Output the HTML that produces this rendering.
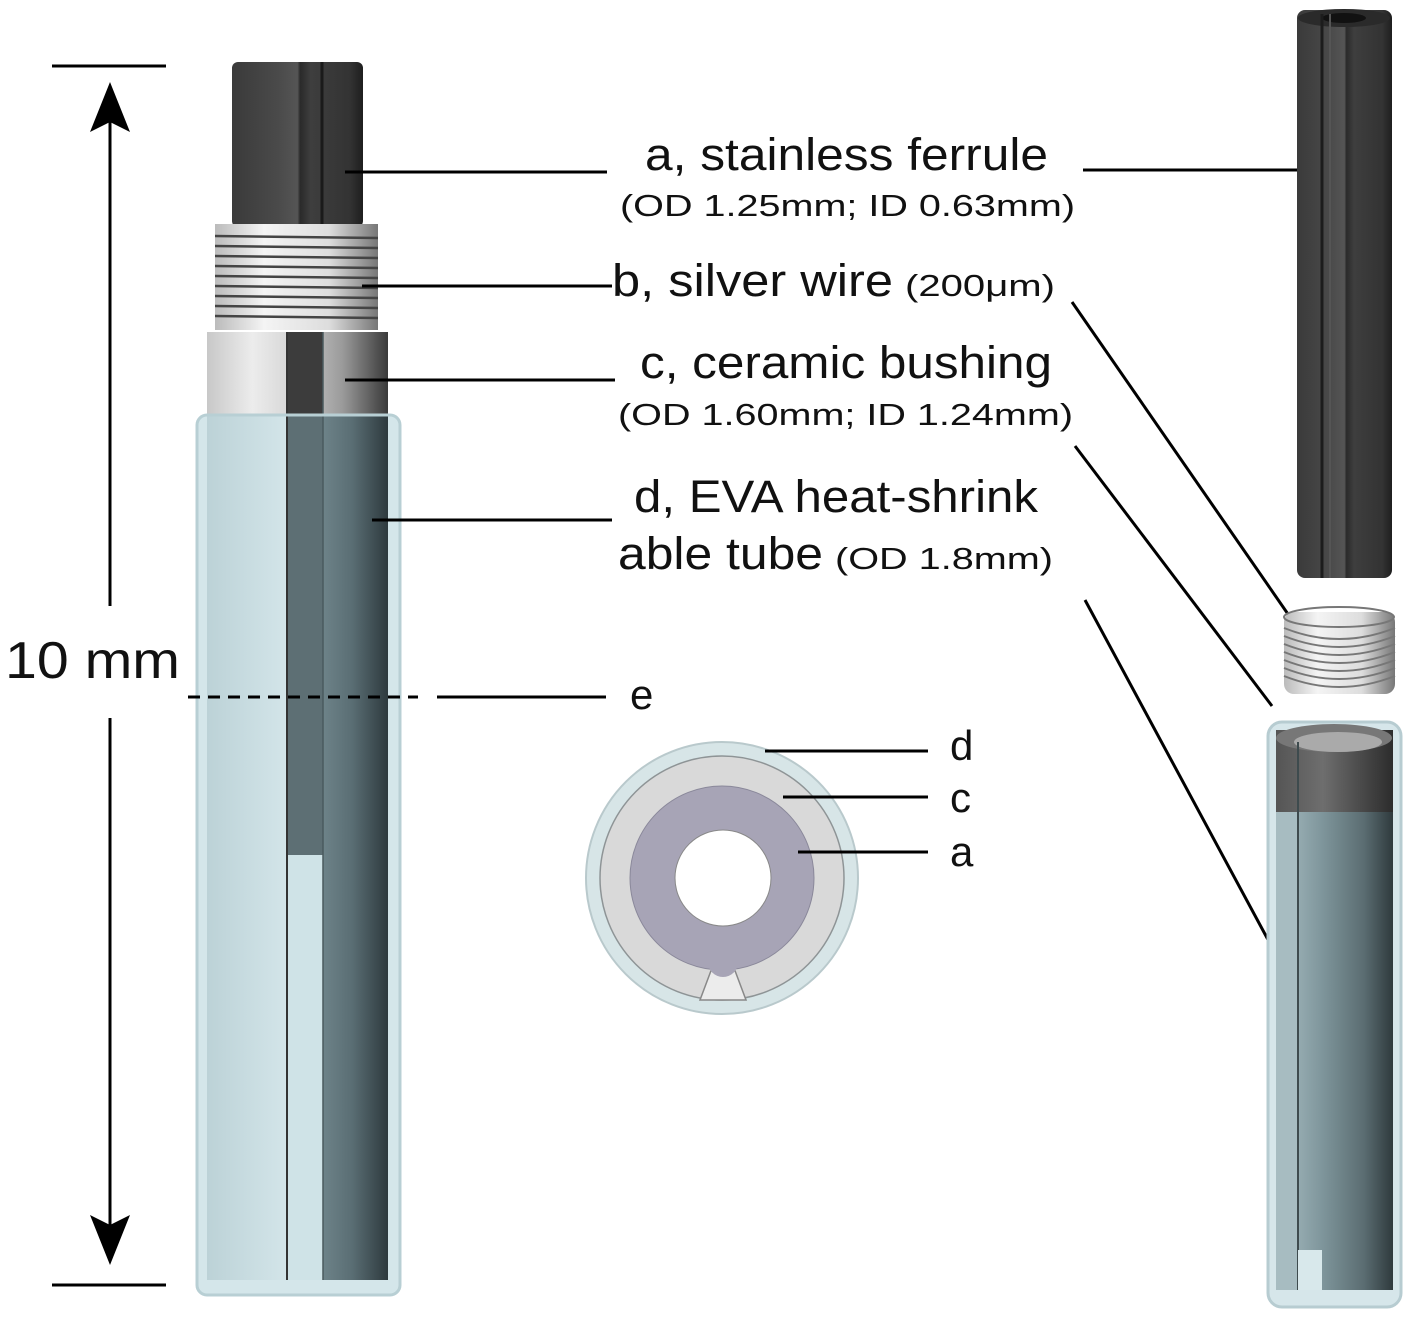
<!DOCTYPE html>
<html><head><meta charset="utf-8"><style>
html,body{margin:0;padding:0;background:#fff;}
svg{display:block}
text{font-family:"Liberation Sans",Arial,sans-serif;fill:#111}
</style></head><body>
<svg width="1425" height="1319" viewBox="0 0 1425 1319" xmlns="http://www.w3.org/2000/svg">
<defs>
<linearGradient id="fer" x1="0" x2="1" y1="0" y2="0">
<stop offset="0" stop-color="#3a3a3a"/><stop offset="0.35" stop-color="#4a4a4a"/><stop offset="0.5" stop-color="#555"/><stop offset="0.52" stop-color="#2a2a2a"/><stop offset="0.6" stop-color="#3e3e3e"/><stop offset="0.9" stop-color="#333"/><stop offset="1" stop-color="#1e1e1e"/>
</linearGradient>
<linearGradient id="cer" x1="0" x2="1" y1="0" y2="0">
<stop offset="0" stop-color="#c8c8c8"/><stop offset="0.25" stop-color="#ececec"/><stop offset="0.45" stop-color="#d8d8d8"/><stop offset="0.75" stop-color="#9a9a9a"/><stop offset="1" stop-color="#3a3a3a"/>
</linearGradient>
<linearGradient id="cerT" x1="0" x2="1" y1="0" y2="0">
<stop offset="0" stop-color="#c8d8dc"/><stop offset="0.35" stop-color="#bcd0d5"/><stop offset="0.5" stop-color="#7f959b"/><stop offset="0.8" stop-color="#5a6e74"/><stop offset="1" stop-color="#2e3a3e"/>
</linearGradient>
<linearGradient id="coil" x1="0" x2="1" y1="0" y2="0">
<stop offset="0" stop-color="#bbb"/><stop offset="0.3" stop-color="#f4f4f4"/><stop offset="0.7" stop-color="#ddd"/><stop offset="1" stop-color="#777"/>
</linearGradient>
<linearGradient id="rt" x1="0" x2="1" y1="0" y2="0">
<stop offset="0" stop-color="#a9bec3"/><stop offset="0.4" stop-color="#7e959b"/><stop offset="0.75" stop-color="#5b6d72"/><stop offset="1" stop-color="#2f3a3d"/>
</linearGradient>
<linearGradient id="rtop" x1="0" x2="1" y1="0" y2="0">
<stop offset="0" stop-color="#555"/><stop offset="0.4" stop-color="#6e6e6e"/><stop offset="1" stop-color="#2c2c2c"/>
</linearGradient>
<linearGradient id="leftT" x1="0" x2="1" y1="0" y2="0">
<stop offset="0" stop-color="#bcd2d7"/><stop offset="1" stop-color="#d3e5e9"/>
</linearGradient>
</defs>

<!-- dimension -->
<g stroke="#000" stroke-width="3" fill="none">
<line x1="52" y1="66" x2="166" y2="66"/>
<line x1="52" y1="1285" x2="166" y2="1285"/>
<line x1="110" y1="100" x2="110" y2="606"/>
<line x1="110" y1="718" x2="110" y2="1245"/>
</g>
<polygon points="110,82 90,132 110,122 130,132" fill="#000"/>
<polygon points="110,1265 90,1215 110,1225 130,1215" fill="#000"/>
<text x="5" y="678" font-size="52" textLength="175" lengthAdjust="spacingAndGlyphs">10 mm</text>

<!-- left assembly -->
<rect x="232" y="62" width="131" height="165" rx="6" fill="url(#fer)"/>
<line x1="322" y1="62" x2="322" y2="227" stroke="#1a1a1a" stroke-width="3"/>
<rect x="215" y="224" width="163" height="106" fill="url(#coil)"/>
<g stroke="#444" stroke-width="2.5">
<line x1="215" y1="236" x2="378" y2="238"/><line x1="215" y1="246" x2="378" y2="248"/><line x1="215" y1="256" x2="378" y2="258"/><line x1="215" y1="266" x2="378" y2="268"/><line x1="215" y1="276" x2="378" y2="278"/><line x1="215" y1="286" x2="378" y2="288"/><line x1="215" y1="296" x2="378" y2="298"/><line x1="215" y1="306" x2="378" y2="308"/><line x1="215" y1="316" x2="378" y2="318"/>
</g>
<rect x="207" y="332" width="181" height="90" fill="url(#cer)"/>
<rect x="287" y="332" width="36" height="90" fill="#3c3c3c"/>
<rect x="197" y="415" width="203" height="880" rx="10" fill="#d4e6ea"/>
<rect x="207" y="415" width="181" height="865" fill="url(#cerT)"/>
<rect x="207" y="415" width="80" height="865" fill="url(#leftT)"/>
<rect x="287" y="415" width="36" height="440" fill="#5d6f74"/>
<rect x="287" y="855" width="36" height="425" fill="#cfe3e7"/>
<line x1="287" y1="332" x2="287" y2="1280" stroke="#333" stroke-width="2"/>
<line x1="323" y1="332" x2="323" y2="1280" stroke="#4a5a5e" stroke-width="1.5"/>
<rect x="197" y="415" width="203" height="880" rx="10" fill="none" stroke="#b8cfd4" stroke-width="3"/>

<!-- e line -->
<line x1="188" y1="697" x2="418" y2="697" stroke="#000" stroke-width="3" stroke-dasharray="12,8"/>
<line x1="437" y1="697" x2="606" y2="697" stroke="#000" stroke-width="3"/>
<text x="630" y="709" font-size="42">e</text>

<g stroke="#000" stroke-width="3">
<line x1="345" y1="172" x2="607" y2="172"/>
<line x1="362" y1="286" x2="612" y2="286"/>
<line x1="345" y1="380" x2="615" y2="380"/>
<line x1="372" y1="520" x2="612" y2="520"/>
<line x1="1083" y1="170" x2="1298" y2="170"/>
<line x1="1072" y1="302" x2="1290" y2="617"/>
<line x1="1075" y1="446" x2="1272" y2="706"/>
<line x1="1085" y1="600" x2="1294" y2="988"/>
</g>

<!-- labels -->
<text x="645" y="170" font-size="45" textLength="403" lengthAdjust="spacingAndGlyphs">a, stainless ferrule</text>
<text x="620" y="216" font-size="31" textLength="455" lengthAdjust="spacingAndGlyphs">(OD 1.25mm; ID 0.63mm)</text>
<text x="612" y="296" font-size="45" textLength="281" lengthAdjust="spacingAndGlyphs">b, silver wire</text>
<text x="905" y="296" font-size="31" textLength="150" lengthAdjust="spacingAndGlyphs">(200μm)</text>
<text x="640" y="378" font-size="45" textLength="412" lengthAdjust="spacingAndGlyphs">c, ceramic bushing</text>
<text x="618" y="425" font-size="31" textLength="455" lengthAdjust="spacingAndGlyphs">(OD 1.60mm; ID 1.24mm)</text>
<text x="634" y="512" font-size="45" textLength="404" lengthAdjust="spacingAndGlyphs">d, EVA heat-shrink</text>
<text x="618" y="569" font-size="45" textLength="205" lengthAdjust="spacingAndGlyphs">able tube</text>
<text x="835" y="569" font-size="31" textLength="218" lengthAdjust="spacingAndGlyphs">(OD 1.8mm)</text>

<!-- cross section -->
<circle cx="722" cy="878" r="136" fill="#d7e5e7" stroke="#b9c9cc" stroke-width="2"/>
<circle cx="722" cy="878" r="122" fill="#d9d9d9" stroke="#8e9496" stroke-width="1.5"/>
<polygon points="700,1000 712,968 734,968 746,1000" fill="#ececec" stroke="#888" stroke-width="1.5"/>
<circle cx="722" cy="878" r="92" fill="#a7a4b6" stroke="#8a889a" stroke-width="1"/>
<circle cx="723" cy="962" r="15" fill="#a7a4b6"/>
<circle cx="723" cy="878" r="48" fill="#fff" stroke="#888" stroke-width="1"/>
<g stroke="#000" stroke-width="3">
<line x1="765" y1="751" x2="928" y2="751"/>
<line x1="783" y1="797" x2="928" y2="797"/>
<line x1="798" y1="852" x2="928" y2="852"/>
</g>
<text x="950" y="760" font-size="42">d</text>
<text x="950" y="812" font-size="42">c</text>
<text x="950" y="866" font-size="42">a</text>

<!-- right ferrule -->
<rect x="1297" y="10" width="95" height="568" rx="8" fill="url(#fer)"/>
<ellipse cx="1344" cy="18" rx="46" ry="9" fill="#2a2a2a"/>
<ellipse cx="1344" cy="18" rx="22" ry="5" fill="#111"/>
<line x1="1322" y1="14" x2="1322" y2="578" stroke="#1c1c1c" stroke-width="3"/>
<line x1="1330" y1="14" x2="1330" y2="578" stroke="#555" stroke-width="2"/>

<!-- right coil -->
<rect x="1284" y="612" width="111" height="82" rx="10" fill="url(#coil)"/>
<ellipse cx="1339" cy="617" rx="55" ry="10" fill="none" stroke="#777" stroke-width="2"/>
<g stroke="#777" stroke-width="2" fill="none">
<path d="M1284 628 Q1339 650 1395 628"/><path d="M1284 636 Q1339 658 1395 636"/><path d="M1284 644 Q1339 666 1395 644"/><path d="M1284 652 Q1339 674 1395 652"/><path d="M1284 660 Q1339 682 1395 660"/><path d="M1284 668 Q1339 690 1395 668"/><path d="M1284 676 Q1339 698 1395 676"/>
</g>

<!-- right tube -->
<rect x="1268" y="722" width="133" height="585" rx="14" fill="#d6e6ea" stroke="#b7ccd1" stroke-width="3"/>
<rect x="1276" y="730" width="117" height="85" fill="url(#rtop)"/>
<ellipse cx="1334" cy="738" rx="58" ry="14" fill="#777"/>
<ellipse cx="1338" cy="742" rx="44" ry="10" fill="#aaa"/>
<rect x="1276" y="812" width="117" height="478" fill="url(#rt)"/>
<rect x="1276" y="812" width="22" height="478" fill="#a7bcc1"/>
<line x1="1298" y1="742" x2="1298" y2="1290" stroke="#3e4b4e" stroke-width="2"/>
<rect x="1298" y="1250" width="24" height="40" fill="#d8e8eb"/>
</svg>
</body></html>
